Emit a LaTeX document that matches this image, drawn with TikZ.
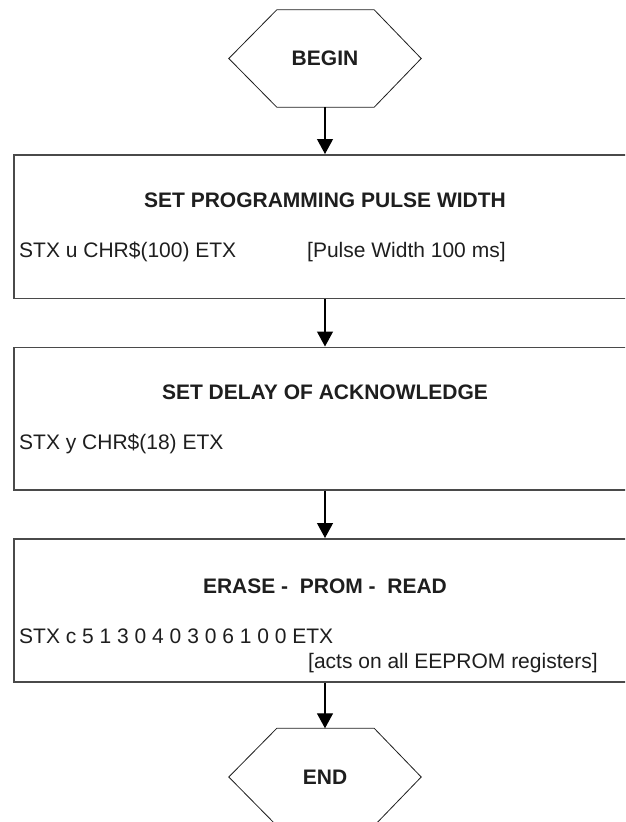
\documentclass[tikz,border=0pt]{standalone}
\usepackage{fontspec}
\setmainfont{Liberation Sans}
\usetikzlibrary{arrows.meta,calc}
\definecolor{boxline}{HTML}{4A4A4A}
\definecolor{ink}{HTML}{1E1E1E}
\tikzset{
  x=1pt,y=1pt,
  stepbox/.style={draw=boxline,line width=1.6pt,minimum width=640pt,anchor=north west,inner sep=0pt},
  hexlabel/.style={inner sep=0pt,minimum width=192pt,font=\fontsize{21}{25}\selectfont\bfseries,text=ink},
  hexline/.style={draw=ink,line width=0.8pt},
  title/.style={anchor=base,inner sep=0pt,font=\fontsize{21}{25}\selectfont\bfseries,text=ink},
  body/.style={anchor=base west,inner sep=0pt,font=\fontsize{21}{25}\selectfont,text=ink},
  arr/.style={draw=black,line width=1.2pt,-{Triangle[length=15pt,width=16pt]}}
}
\begin{document}
\begin{tikzpicture}
\useasboundingbox (0,0) rectangle (625,-822);
\clip (0,0) rectangle (625,-822);
% BEGIN hexagon
\node[hexlabel,minimum height=97pt] (begin) at (325,-58.5) {BEGIN};
\draw[hexline] (begin.west) -- ($(begin.north west)+(48,0)$) -- ($(begin.north east)+(-47,0)$) -- (begin.east) -- ($(begin.south east)+(-47,0)$) -- ($(begin.south west)+(48,0)$) -- cycle;
% Box 1
\node[stepbox,minimum height=143.5pt] (b1) at (13,-154) {};
\node[title] (t1) at (325,-207) {SET PROGRAMMING PULSE WIDTH};
\node[body] (c1) at (19,-257) {STX u CHR\$(100) ETX};
\node[body] (n1) at (307,-257) {[Pulse Width 100 ms]};
% Box 2
\node[stepbox,minimum height=142.5pt] (b2) at (13,-346.5) {};
\node[title] (t2) at (325,-399.5) {SET DELAY OF ACKNOWLEDGE};
\node[body] (c2) at (19,-449) {STX y CHR\$(18) ETX};
% Box 3
\node[stepbox,minimum height=143pt] (b3) at (13,-538) {};
\node[title] (t3) at (325,-593) {ERASE -\ \ PROM -\ \ READ};
\node[body] (c3) at (19,-643) {STX c 5 1 3 0 4 0 3 0 6 1 0 0 ETX};
\node[body] (n3) at (308,-668) {[acts on all EEPROM registers]};
% END hexagon
\node[hexlabel,minimum height=97pt] (end) at (325,-777) {END};
\draw[hexline] (end.west) -- ($(end.north west)+(48,0)$) -- ($(end.north east)+(-47,0)$) -- (end.east) -- ($(end.south east)+(-47,0)$) -- ($(end.south west)+(48,0)$) -- cycle;
% connectors
\draw[arr] (begin.south) -- (begin.south |- b1.north);
\draw[arr] (begin.south |- b1.south) -- (begin.south |- b2.north);
\draw[arr] (begin.south |- b2.south) -- (begin.south |- b3.north);
\draw[arr] (begin.south |- b3.south) -- (end.north);
\end{tikzpicture}
\end{document}
